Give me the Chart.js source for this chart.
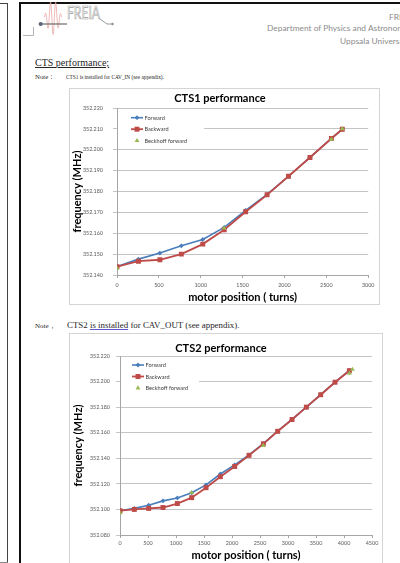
<!DOCTYPE html>
<html>
<head>
<meta charset="utf-8">
<script src="https://cdn.jsdelivr.net/npm/chart.js@4.4.1/dist/chart.umd.min.js"></script>
<style>
  html, body { margin: 0; padding: 0; background: #fff; }
  #page { position: relative; width: 400px; height: 563px; overflow: hidden; background: #fff; }
  .abs { position: absolute; }
  .serif { font-family: "Liberation Serif", "DejaVu Serif", serif; color: #262626; white-space: nowrap; }
  .head { font-family: Lato, "Open Sans", sans-serif; color: #8c8c8c; white-space: nowrap; font-size: 8.4px; line-height: 9px; }
  .frame { position: absolute; border: 1px solid #d4d4d4; box-sizing: border-box; background: #fff; }
  .frame canvas { position: absolute; left: 0; top: 0; }
  .squeeze { transform-origin: 0 50%; }
</style>
</head>
<body>
<div id="page">
  <!-- page edges -->
  <div class="abs" style="left:0;top:3px;width:8px;height:1px;background:#444"></div>
  <div class="abs" style="left:7px;top:3px;width:1px;height:560px;background:#444"></div>
  <div class="abs" style="left:0;top:562px;width:8px;height:1px;background:#888"></div>
  <div class="abs" style="left:19px;top:2px;width:381px;height:2px;background:#111"></div>
  <div class="abs" style="left:19px;top:2px;width:2px;height:561px;background:#111"></div>

  <!-- letterhead logo -->
  <svg class="abs" style="left:0;top:0" width="130" height="42">
    <path d="M23 35.5 H33.5 V27" stroke="#b4b4b4" fill="none" stroke-width="1"/>
    <path id="wave" stroke="#eaa5a5" fill="none" stroke-width="0.8"/>
    <line x1="40" y1="24" x2="67" y2="24" stroke="#6b6b6b" stroke-width="1.2"/>
    <circle cx="40.7" cy="24" r="2.1" fill="#5a6678"/>
    <text x="67" y="19" font-family="Lato" font-size="17" fill="none" stroke="#9c9c9c" stroke-width="0.7"
          textLength="33" lengthAdjust="spacingAndGlyphs">FREIA</text>
    <path d="M100 19 L107 24 L112 24" stroke="#8e8e8e" fill="none" stroke-width="0.9"/>
    <circle cx="112.5" cy="24" r="1.2" fill="#8e8e8e"/>
  </svg>

  <!-- letterhead address -->
  <div class="abs head" style="left:389px;top:13px">FREIA</div>
  <div class="abs head" style="left:267px;top:24px">Department of Physics and Astronomy</div>
  <div class="abs head" style="left:340px;top:37px">Uppsala University</div>

  <!-- section heading and notes -->
  <div class="abs serif" style="left:35px;top:58px;font-size:10px;line-height:10px;text-decoration:underline">CTS performance;</div>
  <div class="abs serif" style="left:35px;top:72.5px;font-size:6.8px;line-height:7px">Note：</div>
  <div class="abs serif squeeze" data-w="98" style="left:66px;top:72.5px;font-size:6.8px;line-height:7px">CTS1 is installed for CAV_IN (see appendix).</div>

  <div class="abs serif" style="left:35px;top:321.5px;font-size:7px;line-height:9px">Note，</div>
  <div class="abs serif fit" data-w="173" style="left:67px;top:321px;font-size:8.5px;line-height:9px">CTS2 <span style="text-decoration:underline;text-decoration-color:#5a5ad0">is installed</span> for CAV_OUT (see appendix).</div>

  <div class="frame" style="left:69px;top:88px;width:311px;height:217px">
    <canvas id="cts1" width="309" height="215"></canvas>
  </div>
  <div class="frame" style="left:69px;top:333px;width:314px;height:250px">
    <canvas id="cts2" width="312" height="238"></canvas>
  </div>
</div>

<script>
// ---- CTS1 (CAV_IN) measurements ----
const cts1Turns = [0, 256, 512, 768, 1024, 1280, 1536, 1792, 2048, 2304, 2560, 2690];
const cts1Forward = [352.1440, 352.1476, 352.1505, 352.1540, 352.1570, 352.1628, 352.1710, 352.1786, 352.1873, 352.1963, 352.2054, 352.2098];
const cts1Backward = [352.1440, 352.1466, 352.1473, 352.1500, 352.1548, 352.1617, 352.1703, 352.1784, 352.1873, 352.1963, 352.2054, 352.2098];
const cts1BeckhoffTurns = [0, 1280, 2560, 2690];
const cts1Beckhoff = [352.1432, 352.1625, 352.2050, 352.2100];
const cts1FreqTicks = [352.14, 352.15, 352.16, 352.17, 352.18, 352.19, 352.20, 352.21, 352.22];
const cts1TurnTicks = [0, 500, 1000, 1500, 2000, 2500, 3000];

// ---- CTS2 (CAV_OUT) measurements ----
const cts2Turns = [0, 256, 512, 768, 1024, 1280, 1536, 1792, 2048, 2304, 2560, 2816, 3072, 3328, 3584, 3840, 4096];
const cts2Forward = [352.0990, 352.1008, 352.1033, 352.1067, 352.1090, 352.1130, 352.1192, 352.1277, 352.1349, 352.1426, 352.1515, 352.1613, 352.1704, 352.1800, 352.1898, 352.1995, 352.2087];
const cts2Backward = [352.0990, 352.1000, 352.1008, 352.1015, 352.1046, 352.1092, 352.1170, 352.1256, 352.1336, 352.1423, 352.1513, 352.1611, 352.1703, 352.1800, 352.1897, 352.1995, 352.2085];
const cts2BeckhoffTurns = [0, 1280, 2560, 4096, 4150];
const cts2Beckhoff = [352.0974, 352.1130, 352.1500, 352.2065, 352.2095];
const cts2FreqTicks = [352.08, 352.10, 352.12, 352.14, 352.16, 352.18, 352.20, 352.22];
const cts2TurnTicks = [0, 500, 1000, 1500, 2000, 2500, 3000, 3500, 4000, 4500];

const BLUE = '#4a7ebb', RED = '#be4b48', GREEN = '#98b954';
const FONT = 'Lato, "Open Sans", sans-serif';
const TICK_SIZE = 5.4;

// fit text runs to their line width
document.querySelectorAll('.fit').forEach(el => {
  const w = el.getBoundingClientRect().width;
  const fs = parseFloat(el.style.fontSize);
  el.style.fontSize = (fs * (+el.dataset.w) / w).toFixed(2) + 'px';
});
document.querySelectorAll('.squeeze').forEach(el => {
  const w = el.getBoundingClientRect().width;
  el.style.transform = 'scaleX(' + ((+el.dataset.w) / w).toFixed(3) + ')';
});

// pink RF wave in the logo
(function () {
  let d = '';
  for (let x = 44; x <= 62; x += 0.2) {
    const env = Math.sin(Math.PI * (x - 44) / 18);
    const y = 17.5 - 17 * env * Math.sin(2 * Math.PI * (x - 44) / 5.2);
    d += (d ? ' L' : 'M') + x.toFixed(2) + ' ' + y.toFixed(2);
  }
  document.getElementById('wave').setAttribute('d', d);
})();

function pts(xs, ys) { return xs.map((x, i) => ({ x, y: ys[i] })); }

function marker(ctx, style, x, y, r, color) {
  ctx.fillStyle = color;
  ctx.beginPath();
  if (style === 'rectRot') {
    ctx.moveTo(x, y - r); ctx.lineTo(x + r, y); ctx.lineTo(x, y + r); ctx.lineTo(x - r, y);
  } else if (style === 'rect') {
    const s = r * Math.SQRT1_2;
    ctx.rect(x - s, y - s, 2 * s, 2 * s);
  } else if (style === 'triangle') {
    ctx.moveTo(x, y - r); ctx.lineTo(x + r * 0.866, y + r * 0.5); ctx.lineTo(x - r * 0.866, y + r * 0.5);
  }
  ctx.closePath();
  ctx.fill();
}

// legend drawn inside the plot area on a white patch
const insideLegend = {
  id: 'insideLegend',
  beforeDatasetsDraw(chart, args, o) {
    const { ctx, chartArea: a } = chart;
    ctx.save();
    ctx.fillStyle = '#fff';
    ctx.fillRect(a.left + 1, a.top + 1, o.w, o.h);
    ctx.font = o.size + 'px ' + FONT;
    ctx.textBaseline = 'middle';
    ctx.textAlign = 'left';
    chart.data.datasets.forEach((ds, i) => {
      const y = a.top + o.y0 + i * o.dy;
      const x0 = a.left + o.x0, x1 = x0 + 12;
      if (ds.showLine !== false) {
        ctx.strokeStyle = ds.borderColor;
        ctx.lineWidth = ds.borderWidth;
        ctx.beginPath(); ctx.moveTo(x0, y); ctx.lineTo(x1, y); ctx.stroke();
      }
      marker(ctx, ds.pointStyle, (x0 + x1) / 2, y, ds.pointRadius, ds.backgroundColor);
      ctx.fillStyle = '#404040';
      ctx.fillText(ds.label, x1 + 1.5, y + 0.3);
    });
    ctx.restore();
  }
};

// later series sit on top: Backward over Forward, Beckhoff over both
function datasets(turns, fwd, bwd, bTurns, bVals) {
  return [
    { label: 'Forward', order: 3, data: pts(turns, fwd), borderColor: BLUE, backgroundColor: BLUE,
      borderWidth: 1.6, pointStyle: 'rectRot', pointRadius: 2.4, pointBorderWidth: 0, tension: 0 },
    { label: 'Backward', order: 2, data: pts(turns, bwd), borderColor: RED, backgroundColor: RED,
      borderWidth: 1.8, pointStyle: 'rect', pointRadius: 3.5, pointBorderWidth: 0, tension: 0 },
    { label: 'Beckhoff forward', order: 1, data: pts(bTurns, bVals), showLine: false, borderColor: GREEN, backgroundColor: GREEN,
      pointStyle: 'triangle', pointRadius: 2.8, pointBorderWidth: 0 }
  ];
}

function makeChart(id, title, sets, yTicks, xTicks, L) {
  return new Chart(document.getElementById(id), {
    type: 'line',
    data: { datasets: sets },
    plugins: [insideLegend],
    options: {
      responsive: false, animation: false, devicePixelRatio: 1,
      layout: { padding: { left: 0, right: L.padRight, top: 0, bottom: 0 } },
      plugins: {
        legend: { display: false }, tooltip: { enabled: false },
        title: { display: true, text: title, color: '#000',
                 font: { family: FONT, size: 11, weight: 'bold' }, padding: L.titlePad },
        insideLegend: L.legend
      },
      scales: {
        x: {
          type: 'linear', min: xTicks[0], max: xTicks[xTicks.length - 1],
          afterBuildTicks: s => { s.ticks = xTicks.map(v => ({ value: v })); },
          afterFit: s => { s.height = L.xH; },
          grid: { drawOnChartArea: false, drawTicks: true, tickLength: 3, color: '#a6a6a6' },
          border: { display: true, color: '#a6a6a6', width: 1 },
          ticks: { color: '#5a5a5a', font: { family: FONT, size: TICK_SIZE }, padding: L.xTickPad,
                   maxRotation: 0, autoSkip: false, callback: v => String(v) },
          title: { display: true, text: 'motor position ( turns)', color: '#000',
                   font: { family: FONT, size: 11, weight: 'bold' }, padding: { top: 0, bottom: L.xTitlePad } }
        },
        y: {
          type: 'linear', min: yTicks[0], max: yTicks[yTicks.length - 1],
          afterBuildTicks: s => { s.ticks = yTicks.map(v => ({ value: v })); },
          afterFit: s => { s.width = L.yW; },
          grid: { drawOnChartArea: true, drawTicks: true, tickLength: 4, color: '#c4c4c4', lineWidth: 1 },
          border: { display: true, color: '#a6a6a6', width: 1 },
          ticks: { color: '#5a5a5a', font: { family: FONT, size: TICK_SIZE }, padding: L.yTickPad,
                   autoSkip: false, callback: v => v.toFixed(3) },
          title: { display: true, text: 'frequency (MHz)', color: '#000',
                   font: { family: FONT, size: 11, weight: 'bold' }, padding: { top: L.yTitlePad, bottom: 0 } }
        }
      }
    }
  });
}

makeChart('cts1', 'CTS1 performance',
  datasets(cts1Turns, cts1Forward, cts1Backward, cts1BeckhoffTurns, cts1Beckhoff),
  cts1FreqTicks, cts1TurnTicks,
  { padRight: 9, titlePad: { top: 2.4, bottom: 3.4 }, xH: 29, yW: 47, xTickPad: 4.5, yTickPad: 10,
    xTitlePad: 0.4, yTitlePad: 0.9,
    legend: { x0: 14, y0: 9.7, dy: 11.5, w: 86, h: 37, size: 5.6 } });

makeChart('cts2', 'CTS2 performance',
  datasets(cts2Turns, cts2Forward, cts2Backward, cts2BeckhoffTurns, cts2Beckhoff),
  cts2FreqTicks, cts2TurnTicks,
  { padRight: 10, titlePad: { top: 7.4, bottom: 1.4 }, xH: 37, yW: 50, xTickPad: 2, yTickPad: 6,
    xTitlePad: 10.4, yTitlePad: 1.4,
    legend: { x0: 12, y0: 9, dy: 11.5, w: 78, h: 40, size: 5.6 } });
</script>
</body>
</html>
